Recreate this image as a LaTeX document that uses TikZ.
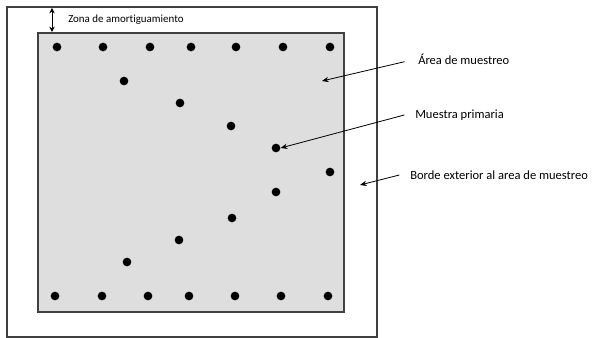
\documentclass[tikz,border=0pt]{standalone}
\usepackage{fontspec}
\setmainfont[Ligatures={NoCommon}]{Carlito}
\usetikzlibrary{arrows.meta}
\definecolor{areagray}{HTML}{DEDEDE}
\begin{document}
\begin{tikzpicture}[x=0.75pt,y=-0.75pt,
  dot/.style={circle,fill=black,inner sep=0pt,minimum size=6.5pt},
  lbl/.style={anchor=west,inner sep=0pt,font=\fontsize{9.4}{11}\selectfont},
  ptr/.style={-{Stealth[length=5pt,width=4pt]},line width=0.6pt},
  frame/.style={line width=0.9pt,draw=black!75}]
\useasboundingbox (0,0) rectangle (593,338);
% outer border
\draw[frame] (7,7) rectangle (377,337);
% sampling area
\draw[frame,fill=areagray] (38,33) rectangle (344,312);
% buffer zone arrow
\coordinate (zt) at (52,8);
\coordinate (zb) at (52,32);
\draw[{Stealth[length=4pt,width=4pt]}-{Stealth[length=4pt,width=4pt]},line width=0.6pt] (zt) -- (zb);
\node[lbl,font=\fontsize{8.2}{10}\selectfont] (zona) at (68,20) {Zona de amortiguamiento};
% top row
\foreach \x [count=\i] in {57,103,150,191,236,283,330}
  \node[dot] (t\i) at (\x,47) {};
% bottom row
\foreach \x [count=\i] in {55,102,148,189,235,281,328}
  \node[dot] (b\i) at (\x,296) {};
% diagonal points
\node[dot] (d1) at (124,81) {};
\node[dot] (d2) at (180,103) {};
\node[dot] (d3) at (231,126) {};
\node[dot] (d4) at (276,148) {};
\node[dot] (d5) at (330,172) {};
\node[dot] (d6) at (276,192) {};
\node[dot] (d7) at (232,218) {};
\node[dot] (d8) at (179,240) {};
\node[dot] (d9) at (127,262) {};
% labels
\node[lbl] (area) at (418,59) {Área de muestreo};
\node[lbl] (prim) at (415,115) {Muestra primaria};
\node[lbl] (borde) at (410,175) {Borde exterior al area de muestreo};
\coordinate (areaT) at (322,81);
\coordinate (bordeT) at (360,185);
\draw[ptr] ([xshift=-10pt,yshift=-2pt]area.west) -- (areaT);
\draw[ptr] ([xshift=-8pt,yshift=0pt]prim.west) -- (d4.east);
\draw[ptr] ([xshift=-8pt]borde.west) -- (bordeT);
\end{tikzpicture}
\end{document}
